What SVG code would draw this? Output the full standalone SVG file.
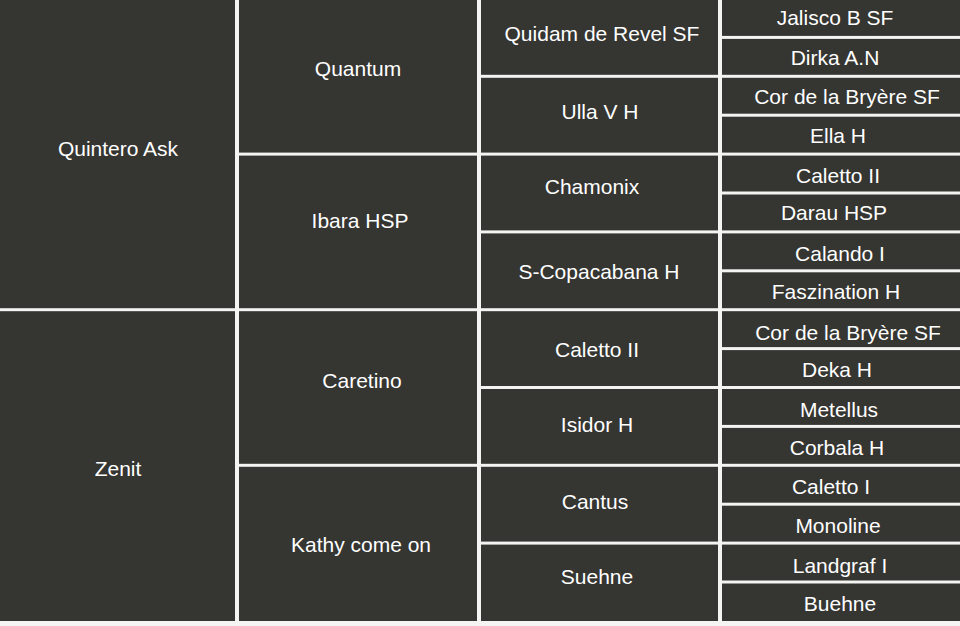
<svg xmlns="http://www.w3.org/2000/svg" width="960" height="626" viewBox="0 0 960 626">
<style>
rect.c{fill:#353531}
text{fill:#ffffff;font-family:"Liberation Sans",Arial,sans-serif;font-size:21px;text-anchor:middle}
</style>
<rect x="0" y="0" width="960" height="626" fill="#f4f4f2"/>
<g id="g1-quintero"><rect class="c" x="0" y="0" width="235" height="308.2"/><text x="118" y="155.5">Quintero Ask</text></g>
<g id="g1-zenit"><rect class="c" x="0" y="311.2" width="235" height="309.8"/><text x="118" y="475.5">Zenit</text></g>
<g id="g2-quantum"><rect class="c" x="239" y="0" width="238" height="152.6"/><text x="358" y="75.5">Quantum</text></g>
<g id="g2-ibara"><rect class="c" x="239" y="155.6" width="238" height="152.6"/><text x="360" y="227.5">Ibara HSP</text></g>
<g id="g2-caretino"><rect class="c" x="239" y="311.2" width="238" height="152.6"/><text x="362" y="387.5">Caretino</text></g>
<g id="g2-kathy"><rect class="c" x="239" y="466.8" width="238" height="154.2"/><text x="361" y="551.5">Kathy come on</text></g>
<g id="g3-quidam"><rect class="c" x="481" y="0" width="237" height="74.8"/><text x="602" y="40.5">Quidam de Revel SF</text></g>
<g id="g3-ulla"><rect class="c" x="481" y="77.8" width="237" height="74.8"/><text x="600" y="118.5">Ulla V H</text></g>
<g id="g3-chamonix"><rect class="c" x="481" y="155.6" width="237" height="74.8"/><text x="592" y="193.5">Chamonix</text></g>
<g id="g3-scopacabana"><rect class="c" x="481" y="233.4" width="237" height="74.8"/><text x="599" y="278.5">S-Copacabana H</text></g>
<g id="g3-caletto2"><rect class="c" x="481" y="311.2" width="237" height="74.8"/><text x="597" y="356.5">Caletto II</text></g>
<g id="g3-isidor"><rect class="c" x="481" y="389" width="237" height="74.8"/><text x="597" y="431.5">Isidor H</text></g>
<g id="g3-cantus"><rect class="c" x="481" y="466.8" width="237" height="74.8"/><text x="595" y="508.5">Cantus</text></g>
<g id="g3-suehne"><rect class="c" x="481" y="544.6" width="237" height="76.4"/><text x="597" y="583.5">Suehne</text></g>
<g id="g4-jalisco"><rect class="c" x="722" y="0" width="238" height="35.9"/><text x="835" y="24.5">Jalisco B SF</text></g>
<g id="g4-dirka"><rect class="c" x="722" y="38.9" width="238" height="35.9"/><text x="835" y="64.5">Dirka A.N</text></g>
<g id="g4-cor1"><rect class="c" x="722" y="77.8" width="238" height="35.9"/><text x="847" y="103.5">Cor de la Bryère SF</text></g>
<g id="g4-ella"><rect class="c" x="722" y="116.7" width="238" height="35.9"/><text x="838" y="142.5">Ella H</text></g>
<g id="g4-caletto2"><rect class="c" x="722" y="155.6" width="238" height="35.9"/><text x="838" y="182.5">Caletto II</text></g>
<g id="g4-darau"><rect class="c" x="722" y="194.5" width="238" height="35.9"/><text x="834" y="219.5">Darau HSP</text></g>
<g id="g4-calando"><rect class="c" x="722" y="233.4" width="238" height="35.9"/><text x="840" y="260.5">Calando I</text></g>
<g id="g4-faszination"><rect class="c" x="722" y="272.3" width="238" height="35.9"/><text x="836" y="298.5">Faszination H</text></g>
<g id="g4-cor2"><rect class="c" x="722" y="311.2" width="238" height="35.9"/><text x="848" y="339.5">Cor de la Bryère SF</text></g>
<g id="g4-deka"><rect class="c" x="722" y="350.1" width="238" height="35.9"/><text x="837" y="376.5">Deka H</text></g>
<g id="g4-metellus"><rect class="c" x="722" y="389" width="238" height="35.9"/><text x="839" y="416.5">Metellus</text></g>
<g id="g4-corbala"><rect class="c" x="722" y="427.9" width="238" height="35.9"/><text x="837" y="454.5">Corbala H</text></g>
<g id="g4-caletto1"><rect class="c" x="722" y="466.8" width="238" height="35.9"/><text x="831" y="493.5">Caletto I</text></g>
<g id="g4-monoline"><rect class="c" x="722" y="505.7" width="238" height="35.9"/><text x="838" y="532.5">Monoline</text></g>
<g id="g4-landgraf"><rect class="c" x="722" y="544.6" width="238" height="35.9"/><text x="840" y="572.5">Landgraf I</text></g>
<g id="g4-buehne"><rect class="c" x="722" y="583.5" width="238" height="37.5"/><text x="840" y="610.5">Buehne</text></g>
</svg>
